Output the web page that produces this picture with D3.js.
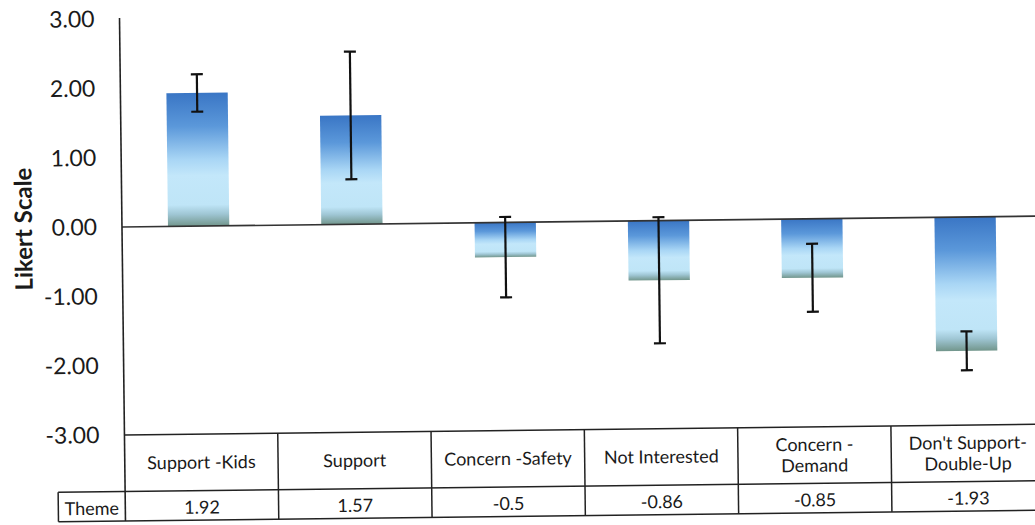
<!DOCTYPE html>
<html>
<head>
<meta charset="utf-8">
<script src="https://cdn.jsdelivr.net/npm/d3@7"></script>
<style>
  html, body { margin: 0; padding: 0; background: #fff; }
  svg { display: block; }
  text { font-family: Lato, "Open Sans", sans-serif; fill: #1a1a1a; }
</style>
</head>
<body>
<svg id="chart" width="1035" height="525"></svg>
<script>
// ---- data ----
const categories = ["Support -Kids", "Support", "Concern -Safety", "Not Interested", "Concern -\nDemand", "Don't Support-\nDouble-Up"];
const values = [1.92, 1.57, -0.5, -0.86, -0.85, -1.93];
const valueLabels = ["1.92", "1.57", "-0.5", "-0.86", "-0.85", "-1.93"];
const errors = [0.27, 0.92, 0.58, 0.91, 0.49, 0.28];
const yTicks = [3, 2, 1, 0, -1, -2, -3];
const seriesName = "Theme";
const yTitle = "Likert Scale";

// ---- layout ----
const axisX = 122;
const step = 153.3;
const plotTop = 19, plotBottom = 435;
const row1Bottom = 491.5, row2Bottom = 521;
const themeLeft = 55;

const svg = d3.select("#chart");
const g = svg.append("g").attr("transform", `rotate(-0.68, ${axisX}, 228)`);

const idx = categories.map((d, i) => i);
const xCol = d3.scaleBand().domain(idx).range([axisX, axisX + step * categories.length]).padding(0);
const xBar = d3.scaleBand().domain(idx).range([axisX, axisX + step * categories.length]).paddingInner(0.6).paddingOuter(0.3);
const y = d3.scaleLinear().domain([-3, 3]).range([plotBottom, plotTop]);

// gradient
const defs = svg.append("defs");
const grad = defs.append("linearGradient").attr("id", "barGrad").attr("x1", 0).attr("y1", 0).attr("x2", 0).attr("y2", 1);
[[0, "#3a76c5"], [0.25, "#5b98da"], [0.5, "#a9d6f5"], [0.62, "#c3e7fa"], [0.84, "#bfe5f7"], [0.91, "#9fc6d4"], [1, "#72968c"]]
  .forEach(([o, c]) => grad.append("stop").attr("offset", o).attr("stop-color", c));

// y axis labels
const fmt = d => d3.format(".2f")(d).replace("\u2212", "-");
const yAxis = d3.axisLeft(y).tickValues(yTicks).tickFormat(fmt).tickSize(0).tickPadding(25);
const ya = g.append("g").attr("transform", `translate(${axisX},0)`).call(yAxis);
ya.select(".domain").remove();
ya.selectAll("text").style("font-family", "Lato, 'Open Sans', sans-serif").style("font-size", "23px").attr("fill", "#1a1a1a");

// y title
g.append("text")
  .attr("transform", `translate(32, 228) rotate(-90)`)
  .attr("text-anchor", "middle")
  .style("font-size", "24px").style("font-weight", "bold")
  .text(yTitle);

// bars
g.selectAll("rect.bar").data(values).join("rect")
  .attr("class", "bar")
  .attr("x", (d, i) => xBar(i))
  .attr("width", xBar.bandwidth())
  .attr("y", d => y(Math.max(0, d)))
  .attr("height", d => Math.abs(y(d) - y(0)))
  .attr("fill", "url(#barGrad)");

// zero line
g.append("line")
  .attr("x1", axisX).attr("x2", axisX + step * categories.length)
  .attr("y1", y(0)).attr("y2", y(0))
  .attr("stroke", "#333").attr("stroke-width", 1.6);

// error bars
const cap = 6;
const eb = g.selectAll("g.err").data(values).join("g").attr("class", "err");
eb.append("line")
  .attr("x1", (d, i) => xBar(i) + xBar.bandwidth() / 2).attr("x2", (d, i) => xBar(i) + xBar.bandwidth() / 2)
  .attr("y1", (d, i) => y(d + errors[i])).attr("y2", (d, i) => y(d - errors[i]))
  .attr("stroke", "#111").attr("stroke-width", 2.2);
eb.append("line")
  .attr("x1", (d, i) => xBar(i) + xBar.bandwidth() / 2 - cap).attr("x2", (d, i) => xBar(i) + xBar.bandwidth() / 2 + cap)
  .attr("y1", (d, i) => y(d + errors[i])).attr("y2", (d, i) => y(d + errors[i]))
  .attr("stroke", "#111").attr("stroke-width", 2.2);
eb.append("line")
  .attr("x1", (d, i) => xBar(i) + xBar.bandwidth() / 2 - cap).attr("x2", (d, i) => xBar(i) + xBar.bandwidth() / 2 + cap)
  .attr("y1", (d, i) => y(d - errors[i])).attr("y2", (d, i) => y(d - errors[i]))
  .attr("stroke", "#111").attr("stroke-width", 2.2);

// axis line (extends through table)
g.append("line")
  .attr("x1", axisX).attr("x2", axisX).attr("y1", plotTop - 1).attr("y2", row2Bottom)
  .attr("stroke", "#222").attr("stroke-width", 1.6);

// data table
const right = axisX + step * categories.length;
const lineStyle = sel => sel.attr("stroke", "#222").attr("stroke-width", 1.5);
g.append("line").attr("x1", axisX).attr("x2", right).attr("y1", plotBottom).attr("y2", plotBottom).call(lineStyle);
g.append("line").attr("x1", themeLeft).attr("x2", right).attr("y1", row1Bottom).attr("y2", row1Bottom).call(lineStyle);
g.append("line").attr("x1", themeLeft).attr("x2", right).attr("y1", row2Bottom).attr("y2", row2Bottom).call(lineStyle);
g.append("line").attr("x1", themeLeft).attr("x2", themeLeft).attr("y1", row1Bottom).attr("y2", row2Bottom).call(lineStyle);
g.selectAll("line.col").data(idx).join("line").attr("class", "col")
  .attr("x1", i => xCol(i) + xCol.bandwidth()).attr("x2", i => xCol(i) + xCol.bandwidth())
  .attr("y1", plotBottom).attr("y2", row2Bottom).call(lineStyle);

// category labels
const catMid = (plotBottom + row1Bottom) / 2;
g.selectAll("text.cat").data(categories).join("text").attr("class", "cat")
  .attr("text-anchor", "middle")
  .style("font-size", "18px")
  .each(function (d, i) {
    const lines = d.split("\n");
    const lh = 21;
    const t = d3.select(this);
    lines.forEach((ln, k) => {
      t.append("tspan")
        .attr("x", xCol(i) + xCol.bandwidth() / 2)
        .attr("y", catMid + (k - (lines.length - 1) / 2) * lh)
        .attr("dy", "0.35em")
        .text(ln);
    });
  });

// value row
const valMid = (row1Bottom + row2Bottom) / 2 + 2;
g.selectAll("text.val").data(valueLabels).join("text").attr("class", "val")
  .attr("x", (d, i) => xCol(i) + xCol.bandwidth() / 2)
  .attr("y", valMid).attr("dy", "0.35em")
  .attr("text-anchor", "middle")
  .style("font-size", "18px")
  .text(d => d);
g.append("text")
  .attr("x", (themeLeft + axisX) / 2).attr("y", valMid).attr("dy", "0.35em")
  .attr("text-anchor", "middle").style("font-size", "18px")
  .text(seriesName);
</script>
</body>
</html>
